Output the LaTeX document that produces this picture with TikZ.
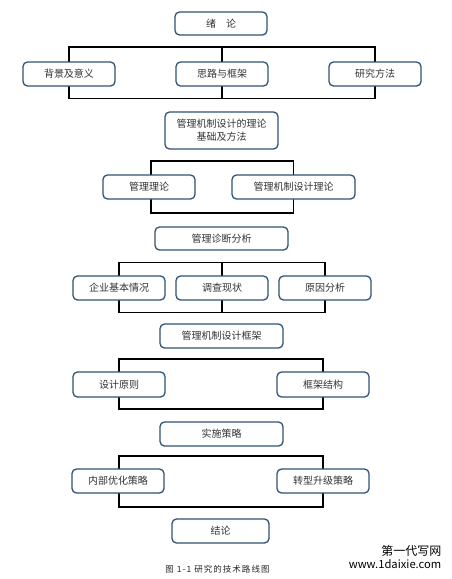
\documentclass[tikz,border=0pt]{standalone}
\usepackage{fontspec}
\newfontfamily\cjk{Noto Sans CJK SC}
\newfontfamily\cjkspaced[LetterSpace=12]{Noto Sans CJK SC}
\usetikzlibrary{backgrounds}
\definecolor{boxblue}{HTML}{2F5275}
\begin{document}
\begin{tikzpicture}[x=1pt,y=-1pt,
  box/.style={draw=boxblue, line width=1.3pt, rounded corners=4.5pt, fill=white,
    text=black!80, font=\cjk\fontsize{10}{13}\selectfont, inner sep=0pt, align=center,
    minimum width=92pt, minimum height=24pt},
  conn/.style={line width=1.6pt, draw=black}]
\useasboundingbox (0,0) rectangle (452,579);

% boxes
\node[box, minimum height=23pt] (xl) at (221,23.5) {绪\hspace{1em}论};
\node[box] (bj) at (69,74) {背景及意义};
\node[box] (sl) at (222,74) {思路与框架};
\node[box] (yj) at (375,74) {研究方法};

\node[box, minimum width=113pt, minimum height=37pt] (jc) at (221.5,130.5) {管理机制设计的理论\\基础及方法};
\node[box] (gl) at (149,187) {管理理论};
\node[box, minimum width=123pt] (jz) at (293.5,187) {管理机制设计理论};

\node[box, minimum width=133pt, minimum height=23pt] (zd) at (221.5,238.5) {管理诊断分析};
\node[box] (qy) at (119,288) {企业基本情况};
\node[box] (dc) at (222,288) {调查现状};
\node[box] (yy) at (325,288) {原因分析};

\node[box, minimum width=123pt] (kj) at (221.5,336) {管理机制设计框架};
\node[box, minimum height=25pt] (yz) at (119,384.5) {设计原则};
\node[box, minimum height=25pt] (jg) at (323,384.5) {框架结构};

\node[box, minimum width=123pt] (ss) at (221.5,434) {实施策略};
\node[box] (nb) at (118,481) {内部优化策略};
\node[box] (zx) at (323,481) {转型升级策略};

\node[box, minimum width=97pt] (jl) at (220.5,531) {结论};

% bar levels
\coordinate (t1) at (0,47);   \coordinate (b1) at (0,98.5);
\coordinate (t2) at (0,161);  \coordinate (b2) at (0,213);
\coordinate (t3) at (0,262.5);\coordinate (b3) at (0,312.5);
\coordinate (t4) at (0,359);  \coordinate (b4) at (0,409);
\coordinate (t5) at (0,456);  \coordinate (b5) at (0,507);

\begin{scope}[on background layer]
  \draw[conn] (bj |- b1) rectangle (yj |- t1);
  \draw[conn] (sl |- t1) -- (sl |- b1);
  \draw[conn] ([xshift=2pt]gl.center |- b2) rectangle (jz |- t2);
  \draw[conn] (qy |- b3) rectangle (yy |- t3);
  \draw[conn] (dc |- t3) -- (dc |- b3);
  \draw[conn] (yz |- b4) rectangle (jg |- t4);
  \draw[conn] ([xshift=1pt]nb.center |- b5) rectangle (zx |- t5);
\end{scope}

% caption and watermark
\node[font=\cjkspaced\fontsize{8.5}{10}\selectfont, text=black!85] (cap) at (217.5,569) {图\hspace{3pt}1-1\hspace{3pt}研究的技术路线图};
\node[font=\cjk\fontsize{12}{14}\selectfont, anchor=east, inner sep=0pt] (wm1) at (441.5,551) {第一代写网};
\node[font=\cjk\fontsize{11.2}{14}\selectfont, anchor=east, inner sep=0pt] (wm2) at (441.5,564) {www.1daixie.com};
\end{tikzpicture}
\end{document}
